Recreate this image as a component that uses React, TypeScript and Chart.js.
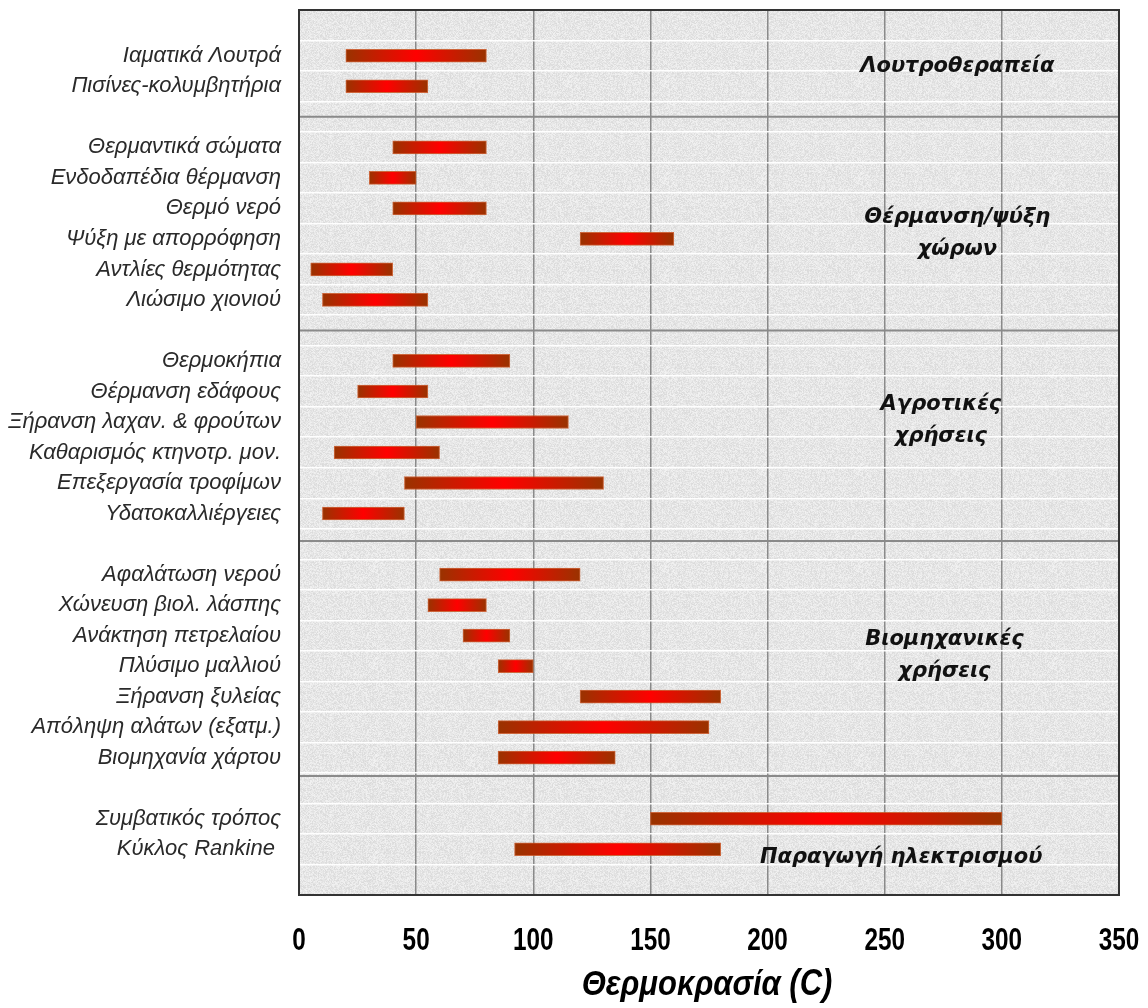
import React, { useEffect, useRef } from 'react';
import { Chart, registerables } from 'chart.js';
Chart.register(...registerables);

// Categories (empty strings are spacer rows between groups)
const categories: string[] = [
  '',
  'Ιαματικά Λουτρά',
  'Πισίνες-κολυμβητήρια',
  '',
  'Θερμαντικά σώματα',
  'Ενδοδαπέδια θέρμανση',
  'Θερμό νερό',
  'Ψύξη με απορρόφηση',
  'Αντλίες θερμότητας',
  'Λιώσιμο χιονιού',
  '',
  'Θερμοκήπια',
  'Θέρμανση εδάφους',
  'Ξήρανση λαχαν. & φρούτων',
  'Καθαρισμός κτηνοτρ. μον.',
  'Επεξεργασία τροφίμων',
  'Υδατοκαλλιέργειες',
  '',
  'Αφαλάτωση νερού',
  'Χώνευση βιολ. λάσπης',
  'Ανάκτηση πετρελαίου',
  'Πλύσιμο μαλλιού',
  'Ξήρανση ξυλείας',
  'Απόληψη αλάτων (εξατμ.)',
  'Βιομηχανία χάρτου',
  '',
  'Συμβατικός τρόπος',
  'Κύκλος Rankine ',
  '',
];

// Temperature range start (°C)
const rangeStart: (number | null)[] = [
  null, 20, 20,
  null, 40, 30, 40, 120, 5, 10,
  null, 40, 25, 50, 15, 45, 10,
  null, 60, 55, 70, 85, 120, 85, 85,
  null, 150, 92,
  null,
];

// Temperature range end (°C)
const rangeEnd: (number | null)[] = [
  null, 80, 55,
  null, 80, 50, 80, 160, 40, 55,
  null, 90, 55, 115, 60, 130, 45,
  null, 120, 80, 90, 100, 180, 175, 135,
  null, 300, 180,
  null,
];

const xTicks: number[] = [0, 50, 100, 150, 200, 250, 300, 350];
const xTitle = 'Θερμοκρασία (C)';

// Group annotations: text lines, x value, y (row index)
const groupTexts: string[][] = [
  ['Λουτροθεραπεία'],
  ['Θέρμανση/ψύξη', 'χώρων'],
  ['Αγροτικές', 'χρήσεις'],
  ['Βιομηχανικές', 'χρήσεις'],
  ['Παραγωγή ηλεκτρισμού'],
];
const groupX: number[] = [281, 281, 274, 275.5, 257];
const groupY: number[] = [1.34, 6.84, 12.94, 20.65, 27.27];

// Group separator rows (row index)
const separatorRows: number[] = [3, 10, 16.9, 24.6];

function makeNoisePattern(ctx: CanvasRenderingContext2D) {
  const size = 97;
  const c = document.createElement('canvas');
  c.width = size;
  c.height = size;
  const g = c.getContext('2d')!;
  const img = g.createImageData(size, size);
  for (let j = 0; j < size; j++) {
    for (let i = 0; i < size; i++) {
      const h = Math.sin(i * 12.9898 + j * 78.233) * 43758.5453;
      const f = h - Math.floor(h);
      const v = Math.round(230 + (f - 0.5) * 24);
      const k = (j * size + i) * 4;
      img.data[k] = v;
      img.data[k + 1] = v;
      img.data[k + 2] = v;
      img.data[k + 3] = 255;
    }
  }
  g.putImageData(img, 0, 0);
  return ctx.createPattern(c, 'repeat');
}

const decorPlugin = {
  id: 'decor',
  beforeDraw(chart: any) {
    const { ctx, chartArea } = chart;
    if (!chartArea) return;
    ctx.save();
    const pat = makeNoisePattern(ctx);
    ctx.fillStyle = pat || '#e5e5e5';
    ctx.fillRect(chartArea.left, chartArea.top, chartArea.right - chartArea.left, chartArea.bottom - chartArea.top);
    ctx.restore();
  },
  beforeDatasetsDraw(chart: any) {
    const { ctx, chartArea, scales } = chart;
    ctx.save();
    ctx.strokeStyle = '#8a8a8a';
    ctx.lineWidth = 2;
    separatorRows.forEach((r) => {
      const y = scales.y.getPixelForValue(r);
      ctx.beginPath();
      ctx.moveTo(chartArea.left, y);
      ctx.lineTo(chartArea.right, y);
      ctx.stroke();
    });
    ctx.restore();
  },
  afterDatasetsDraw(chart: any) {
    const { ctx, chartArea, scales } = chart;
    ctx.save();
    ctx.fillStyle = '#111';
    ctx.font = 'italic bold 21px "DejaVu Sans", Verdana, sans-serif';
    ctx.textAlign = 'center';
    ctx.textBaseline = 'middle';
    const lh = 32;
    groupTexts.forEach((lines, gi) => {
      const cx = scales.x.getPixelForValue(groupX[gi]);
      const cy = scales.y.getPixelForValue(groupY[gi]);
      const y0 = cy - ((lines.length - 1) * lh) / 2;
      lines.forEach((t, li) => ctx.fillText(t, cx, y0 + li * lh));
    });
    ctx.strokeStyle = '#333';
    ctx.lineWidth = 2;
    ctx.strokeRect(chartArea.left, chartArea.top, chartArea.right - chartArea.left, chartArea.bottom - chartArea.top);

    // condensed x tick labels and axis title
    const xs = scales.x;
    ctx.fillStyle = '#000';
    ctx.font = 'bold 32px "Liberation Sans", Arial, sans-serif';
    xs.ticks.forEach((t: any) => {
      const px = xs.getPixelForValue(t.value);
      ctx.save();
      ctx.translate(px, 941);
      ctx.scale(0.76, 1);
      ctx.fillText(String(t.value), 0, 0);
      ctx.restore();
    });
    ctx.font = 'italic bold 36px "Liberation Sans", Arial, sans-serif';
    ctx.save();
    ctx.translate((chartArea.left + chartArea.right) / 2 - 2, 985);
    ctx.scale(0.86, 1);
    ctx.fillText(xTitle, 0, 0);
    ctx.restore();
    ctx.restore();
  },
};

export default function App() {
  const ref = useRef<HTMLCanvasElement | null>(null);
  useEffect(() => {
    if (!ref.current) return;
    const data = categories.map((_, i) =>
      rangeStart[i] === null || rangeEnd[i] === null ? null : [rangeStart[i], rangeEnd[i]]
    );
    const chart = new Chart(ref.current, {
      type: 'bar',
      data: {
        labels: categories,
        datasets: [
          {
            data: data as any,
            barThickness: 13,
            borderWidth: 1,
            borderColor: 'rgba(200,80,30,0.85)',
            borderSkipped: false,
            backgroundColor: (c: any) => {
              const chart = c.chart;
              const xs = chart.scales && chart.scales.x;
              if (!xs || c.type !== 'data' || !c.raw) return '#cc2200';
              const [a, b] = c.raw;
              const x0 = xs.getPixelForValue(a);
              const x1 = xs.getPixelForValue(b);
              if (!isFinite(x0) || !isFinite(x1) || x1 === x0) return '#cc2200';
              const g = chart.ctx.createLinearGradient(x0, 0, x1, 0);
              g.addColorStop(0, '#993300');
              g.addColorStop(0.5, '#ff0000');
              g.addColorStop(1, '#993300');
              return g;
            },
          },
        ],
      },
      options: {
        indexAxis: 'y',
        animation: false,
        responsive: true,
        maintainAspectRatio: false,
        layout: { padding: { top: 10, right: 29, left: 0, bottom: 0 } },
        plugins: { legend: { display: false }, tooltip: { enabled: false } },
        scales: {
          x: {
            type: 'linear',
            min: 0,
            max: 350,
            afterBuildTicks: (s: any) => {
              s.ticks = xTicks.map((v) => ({ value: v }));
            },
            afterFit: (s: any) => {
              s.height = 113;
              s.paddingLeft = 0;
              s.paddingRight = 0;
              s.paddingTop = 0;
              s.paddingBottom = 0;
            },
            ticks: {
              color: 'rgba(0,0,0,0)',
              padding: 27,
              font: { family: '"Liberation Sans", Arial, sans-serif', size: 30, weight: 'bold' },
            },
            grid: { color: '#8a8a8a', lineWidth: 1.5, drawTicks: false },
            border: { display: false },
            title: { display: false },
          },
          y: {
            type: 'category',
            afterFit: (s: any) => {
              s.width = 299;
              s.paddingLeft = 0;
              s.paddingRight = 0;
              s.paddingTop = 0;
              s.paddingBottom = 0;
            },
            ticks: {
              autoSkip: false,
              color: '#2a2a2a',
              padding: 18,
              font: { family: '"Liberation Sans", Arial, sans-serif', size: 22, style: 'italic' },
            },
            grid: { color: 'rgba(255,255,255,0.95)', lineWidth: 1.5, drawTicks: false, offset: true },
            border: { display: false },
          },
        },
      } as any,
      plugins: [decorPlugin],
    });
    return () => chart.destroy();
  }, []);
  return (
    <div style={{ position: 'fixed', left: 0, top: 0, width: 1148, height: 1008, background: '#fff' }}>
      <canvas ref={ref} />
    </div>
  );
}
